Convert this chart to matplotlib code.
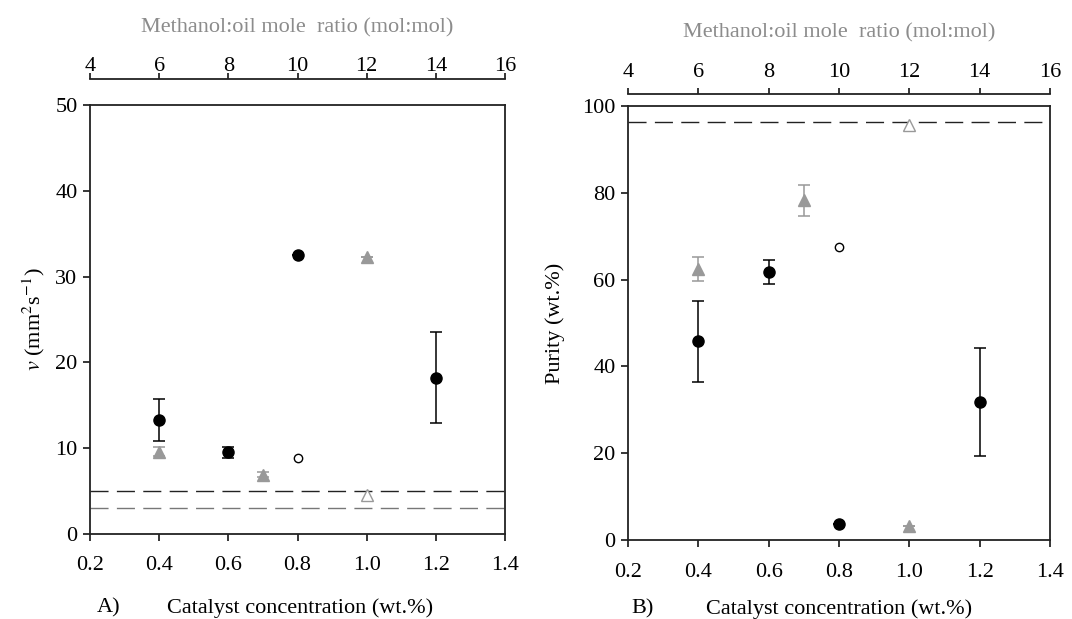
#!/usr/bin/env python3
"""Viscosity and purity vs catalyst concentration and methanol:oil ratio."""

import matplotlib
matplotlib.use("Agg")
import matplotlib.pyplot as plt

# catalyst concentration series (bottom axis, black)
cat_conc = [0.4, 0.6, 0.8, 1.2]
visc_cat = [13.3, 9.5, 32.5, 18.2]
visc_cat_err = [2.45, 0.6, 0.0, 5.3]
purity_cat = [45.8, 61.8, 3.8, 31.9]
purity_cat_err = [9.3, 2.8, 0.0, 12.4]
cat_open = [0.8]
visc_cat_open = [8.9]
purity_cat_open = [67.5]

# methanol:oil mole ratio series (top axis, grey)
ratio = [6, 9, 12]
visc_ratio = [9.6, 6.9, 32.3]
visc_ratio_err = [0.5, 0.3, 0.0]
purity_ratio = [62.4, 78.2, 3.4]
purity_ratio_err = [2.8, 3.5, 0.0]
ratio_open = [12]
visc_ratio_open = [4.6]
purity_ratio_open = [95.6]

# reference limits (dashed)
visc_limits = [5.0, 3.0]
purity_limits = [96.3]

cat_ticks = [0.2, 0.4, 0.6, 0.8, 1.0, 1.2, 1.4]
cat_labels = ["0.2", "0.4", "0.6", "0.8", "1.0", "1.2", "1.4"]
ratio_ticks = [4, 6, 8, 10, 12, 14, 16]

GREY = "#999999"
FS = 16

plt.rcParams["font.family"] = ["Liberation Serif", "DejaVu Serif"]
plt.rcParams["mathtext.fontset"] = "stix"
plt.rcParams["font.size"] = FS


def style_axes(ax, ymax, ystep, top_offset, top_pad, title_pad):
    ax.set_xlim(0.2, 1.4)
    ax.set_ylim(0, ymax)
    ax.set_xticks(cat_ticks)
    ax.set_xticklabels(cat_labels)
    ax.set_yticks(range(0, ymax + 1, ystep))
    ax.tick_params(direction="out", length=5, width=1.1, labelsize=FS, pad=4)
    ax.tick_params(axis="x", pad=11)
    for sp in ax.spines.values():
        sp.set_linewidth(1.3)
        sp.set_color("#222222")

    top = ax.twiny()
    top.set_xlim(4, 16)
    top.set_xticks(ratio_ticks)
    for name in ("left", "right", "bottom"):
        top.spines[name].set_visible(False)
    # offset is in points; reference offsets are given in pixels (dpi 100)
    top.spines["top"].set_position(("outward", top_offset * 0.72))
    top.spines["top"].set_linewidth(1.3)
    top.spines["top"].set_color("#222222")
    top.tick_params(direction="out", length=4, width=1.1, labelsize=FS, pad=top_pad)
    top.set_xlabel("Methanol:oil mole  ratio (mol:mol)", color="#8c8c8c",
                   fontsize=FS, labelpad=title_pad)
    return top


def draw_panel(ax, top, yc, ycerr, yco, yr, yrerr, yro, limits, limit_colors):
    for y, c in zip(limits, limit_colors):
        ax.axhline(y, color=c, lw=1.0, dashes=(13, 6), zorder=1)
    ax.errorbar(cat_conc, yc, yerr=ycerr, fmt="o", color="black", ms=8,
                capsize=4.3, elinewidth=1.1, capthick=1.1, zorder=4)
    ax.plot(cat_open, yco, "o", ms=6, mfc="white", mec="black", mew=1.0, zorder=4)
    top.errorbar(ratio, yr, yerr=yrerr, fmt="^", color=GREY, ms=8.5,
                 capsize=4.3, elinewidth=1.1, capthick=1.1, zorder=4)
    top.plot(ratio_open, yro, "^", ms=8.5, mfc="white", mec=GREY, mew=1.0, zorder=5)


def main():
    fig = plt.figure(figsize=(10.72, 6.19), dpi=100)

    ax_a = fig.add_axes([0.0840, 0.1373, 0.3871, 0.6931])
    top_a = style_axes(ax_a, 50, 10, 26, -2, 18)
    draw_panel(ax_a, top_a, visc_cat, visc_cat_err, visc_cat_open,
               visc_ratio, visc_ratio_err, visc_ratio_open,
               visc_limits, ["#222222", "#777777"])
    ax_a.set_ylabel(r"$\it{v}$ (mm$^{2}$s$^{-1}$)", fontsize=FS, labelpad=6)

    ax_b = fig.add_axes([0.5858, 0.1271, 0.3937, 0.7021])
    top_b = style_axes(ax_b, 100, 20, 12, 4.5, 18)
    draw_panel(ax_b, top_b, purity_cat, purity_cat_err, purity_cat_open,
               purity_ratio, purity_ratio_err, purity_ratio_open,
               purity_limits, ["#222222"])
    ax_b.set_ylabel("Purity (wt.%)", fontsize=FS, labelpad=12.5)

    fig.text(0.090, 0.0178, "A)", fontsize=FS, va="center")
    fig.text(0.156, 0.0178, "Catalyst concentration (wt.%)", fontsize=FS, va="center")
    fig.text(0.589, 0.0165, "B)", fontsize=FS, va="center")
    fig.text(0.659, 0.0165, "Catalyst concentration (wt.%)", fontsize=FS, va="center")

    fig.savefig("out.png", dpi=100)
    return 0


if __name__ == "__main__":
    raise SystemExit(main())
